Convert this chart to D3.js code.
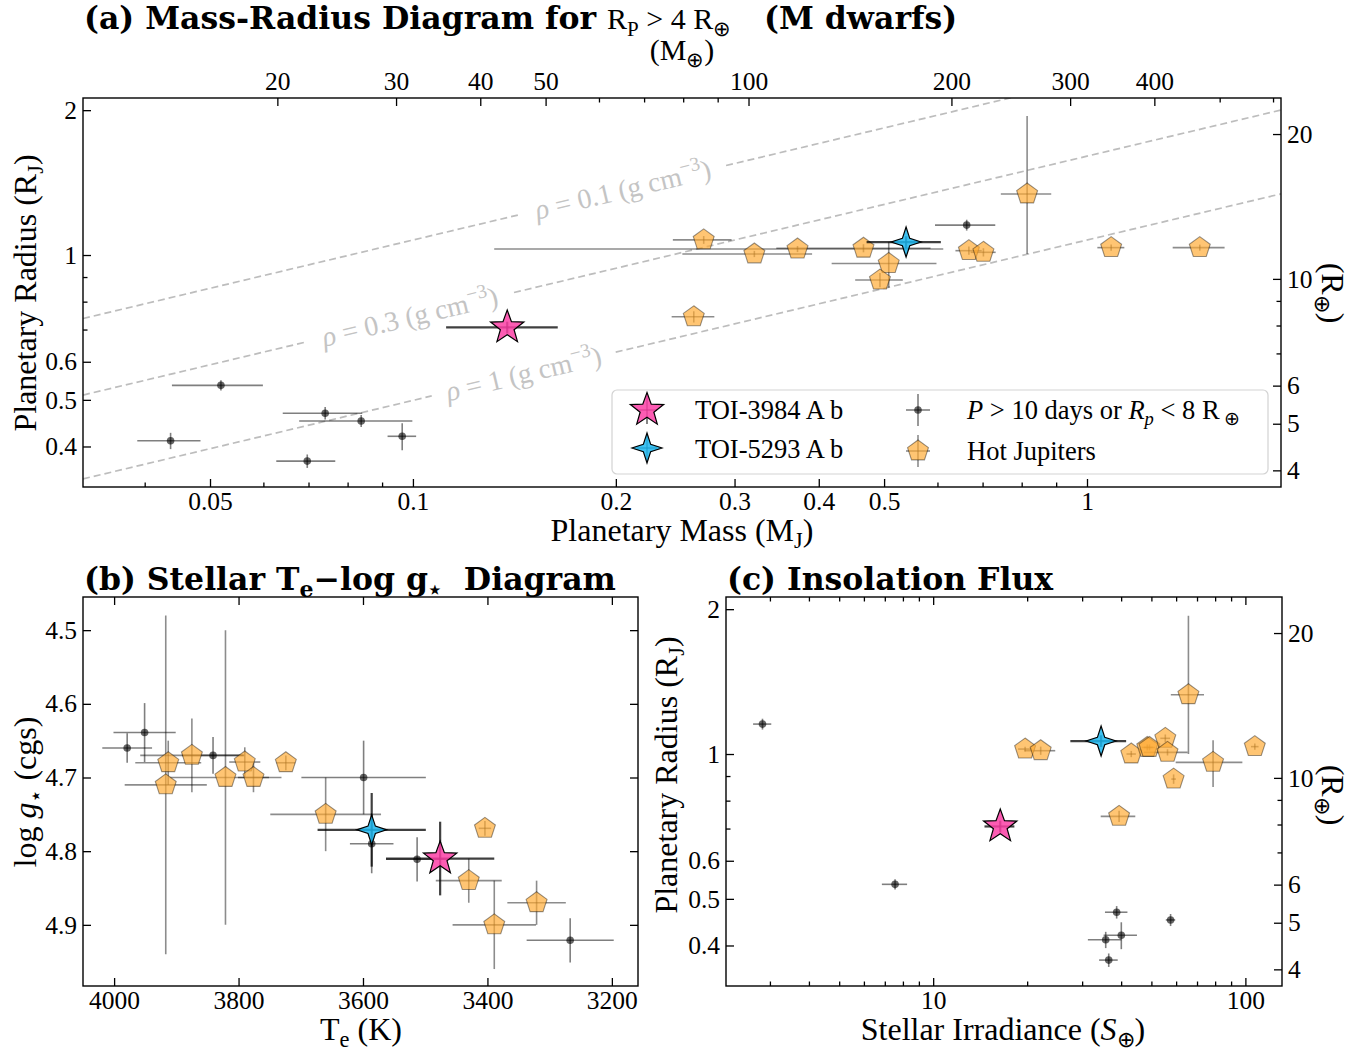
<!DOCTYPE html>
<html><head><meta charset="utf-8">
<script src="https://cdn.jsdelivr.net/npm/d3@7"></script>
<style>
body{margin:0;background:#fff;}
svg{display:block;}
text{white-space:pre;}
</style></head><body>
<svg id="chart" width="1372" height="1053"></svg>
<script>
// ---------------- DATA ----------------
const targetNames = ["TOI-3984 A b", "TOI-5293 A b"];
const targetMass = [0.138, 0.539];
const targetMassErr = [0.026, 0.068];
const targetRadius = [0.707, 1.064];
const targetRadiusErr = [0.02, 0.03];
const targetTeff = [3476, 3586];
const targetTeffErr = [87, 87];
const targetLogg = [4.810, 4.771];
const targetLoggErr = [0.05, 0.05];
const targetInsol = [16.4, 34.5];
const targetInsolErr = [1.8, 7.0];

// "P > 10 days or Rp < 8 Re" sample
const otherMass = [0.0437, 0.0519, 0.0741, 0.0838, 0.0964, 0.0697, 0.663];
const otherMassErr = [0.0047, 0.008, 0.010, 0.016, 0.0047, 0.007, 0.068];
const otherRadius = [0.411, 0.536, 0.469, 0.452, 0.420, 0.373, 1.154];
const otherRadiusErr = [0.016, 0.013, 0.014, 0.013, 0.027, 0.012, 0.03];
const otherInsol = [35.7, 7.55, 38.7, 57.6, 40.05, 36.5, 2.84];
const otherInsolErr = [4.4, 0.7, 3.2, 2.0, 4.9, 2.5, 0.19];
const otherTeff = [3979, 3951, 3841, 3599, 3586, 3513, 3267];
const otherTeffErr = [40, 50, 50, 100, 35, 50, 70];
const otherLogg = [4.660, 4.639, 4.670, 4.700, 4.790, 4.811, 4.921];
const otherLoggErr = [0.02, 0.04, 0.025, 0.05, 0.04, 0.03, 0.03];

// Hot Jupiters — panel (a)
const hjMass = [0.270, 0.321, 0.372, 0.466, 0.508, 0.493, 0.668, 0.702, 0.815, 1.086, 1.47, 0.261];
const hjMassErr = [0.027, 0.07, 0.24, 0.12, 0.09, 0.04, 0.03, 0.03, 0.07, 0.05, 0.13, 0.019];
const hjRadius = [1.075, 1.005, 1.029, 1.033, 0.960, 0.887, 1.021, 1.013, 1.339, 1.036, 1.036, 0.744];
const hjRadiusErrLo = [0.02, 0.015, 0.015, 0.02, 0.105, 0.03, 0.02, 0.02, 0.334, 0.015, 0.015, 0.02];
const hjRadiusErrHi = [0.02, 0.015, 0.015, 0.02, 0.105, 0.03, 0.02, 0.02, 0.606, 0.015, 0.015, 0.02];
// Hot Jupiters — panel (b)
const hjTeff = [3913, 3917, 3875, 3821, 3790, 3776, 3724, 3660, 3404, 3430, 3389, 3321];
const hjTeffErr = [53, 66, 83, 90, 25, 25, 15, 89, 10, 53, 67, 47];
const hjLogg = [4.680, 4.710, 4.670, 4.700, 4.679, 4.700, 4.680, 4.750, 4.769, 4.840, 4.900, 4.870];
const hjLoggErr = [0.03, 0.23, 0.05, 0.20, 0.02, 0.02, 0.01, 0.05, 0.01, 0.03, 0.06, 0.03];
// Hot Jupiters — panel (c)
const hjInsol = [19.7, 22.1, 43.1, 48.5, 49.3, 55.4, 56.3, 65.7, 78.8, 58.9, 39.4, 107.2];
const hjInsolErr = [1.0, 2.5, 1.5, 2.0, 2.0, 2.0, 9.0, 8.0, 19.0, 1.0, 5.0, 3.0];
const hjRadiusC = [1.024, 1.016, 1.000, 1.032, 1.032, 1.078, 1.008, 1.328, 0.961, 0.887, 0.742, 1.036];
const hjRadiusCErrLo = [0.012, 0.02, 0.015, 0.015, 0.015, 0.02, 0.015, 0.328, 0.107, 0.02, 0.02, 0.015];
const hjRadiusCErrHi = [0.012, 0.02, 0.015, 0.015, 0.015, 0.02, 0.015, 0.61, 0.107, 0.02, 0.02, 0.015];

// iso-density curves (g cm^-3)
const densities = [0.1, 0.3, 1];
const densityLabels = ["0.1", "0.3", "1"];

// axis ranges and ticks
const massDomain = [0.0324, 1.94];          // M_J
const radiusDomain = [0.3295, 2.12];        // R_J
const teffDomain = [4050, 3158];            // K
const loggDomain = [4.455, 4.983];
const insolDomain = [2.17, 131];            // S_earth
const MJ_ME = 317.8, RJ_RE = 11.21, RHO_J = 1.24;

const massTicksLab = [0.05, 0.1, 0.2, 0.3, 0.4, 0.5, 1];
const massTicksMinor = [0.04, 0.06, 0.07, 0.08, 0.09, 0.6, 0.7, 0.8, 0.9];
const mEarthTicksLab = [20, 30, 40, 50, 100, 200, 300, 400];
const mEarthTicksMinor = [60, 70, 80, 90, 500, 600];
const radTicksLab = [0.4, 0.5, 0.6, 1, 2];
const radTicksMinor = [0.7, 0.8, 0.9];
const rEarthTicksLab = [4, 5, 6, 10, 20];
const rEarthTicksMinor = [7, 8, 9];
const teffTicks = [4000, 3800, 3600, 3400, 3200];
const loggTicks = [4.5, 4.6, 4.7, 4.8, 4.9];
const insolTicksLab = [10, 100];
const insolTicksMinor = [3, 4, 5, 6, 7, 8, 9, 20, 30, 40, 50, 60, 70, 80, 90];

// ---------------- STYLE ----------------
const SERIF = '"Liberation Serif","Times New Roman",Times,serif';
const TSERIF = '"DejaVu Serif",serif';
const FS_TICK = 25.5, FS_LAB = 32, FS_TITLE = 31.5, FS_LEG = 26.5;
const PINK = "#fb3fa6", BLUE = "#1cb6ee", ORANGE = "#ffa931";

const svg = d3.select("#chart");
svg.append("rect").attr("width", 1372).attr("height", 1053).attr("fill", "#fff");

const A = {l: 83, r: 1281, t: 98, b: 487};
const B = {l: 83, r: 638, t: 597, b: 986};
const C = {l: 726, r: 1282, t: 597, b: 986};

function rich(parent, x, y, parts, o) {
  const t = parent.append("text").attr("x", x).attr("y", y)
    .attr("font-family", o.family || SERIF).attr("font-size", o.size)
    .attr("text-anchor", o.anchor || "start").attr("font-weight", o.weight || "normal")
    .attr("fill", o.fill || "#000");
  if (o.rotate) t.attr("transform", `rotate(${o.rotate},${x},${y})`);
  let shift = 0;
  parts.forEach(p => {
    const s = typeof p === "string" ? {t: p} : p;
    const base = s.size || o.size;
    const fsz = (s.sub || s.sup) ? base * 0.7 : base;
    const target = s.sub ? base * 0.22 : s.sup ? -base * 0.4 : 0;
    const ts = t.append("tspan").text(s.t).attr("font-size", fsz).attr("dy", target - shift);
    shift = target;
    if (s.it) ts.attr("font-style", "italic");
    if (s.w) ts.attr("font-weight", s.w);
    if (s.f) ts.attr("font-family", s.f);
  });
  return t;
}

function starPath(n, R, r) {
  const pts = [];
  for (let k = 0; k < 2 * n; k++) {
    const a = -Math.PI / 2 + k * Math.PI / n;
    const rr = k % 2 ? r : R;
    pts.push([rr * Math.cos(a), rr * Math.sin(a)]);
  }
  return "M" + pts.map(p => p[0].toFixed(2) + "," + p[1].toFixed(2)).join("L") + "Z";
}
function polyPath(n, R) {
  const pts = [];
  for (let k = 0; k < n; k++) {
    const a = -Math.PI / 2 + k * 2 * Math.PI / n;
    pts.push([R * Math.cos(a), R * Math.sin(a)]);
  }
  return "M" + pts.map(p => p[0].toFixed(2) + "," + p[1].toFixed(2)).join("L") + "Z";
}
const STAR5 = starPath(5, 17.5, 7.2);
const STAR4 = starPath(4, 15, 5.2);
const PENT = polyPath(5, 11);

function axisStyle(g) {
  g.select(".domain").remove();
  g.selectAll(".tick line").attr("stroke", "#000").attr("stroke-width", 1.3);
  g.selectAll(".tick text").attr("font-size", FS_TICK).attr("font-family", SERIF).attr("fill", "#000");
  return g;
}
function addAxis(parent, gen, tx, ty) {
  return axisStyle(parent.append("g").attr("transform", `translate(${tx},${ty})`).call(gen));
}
const fmt = d => String(d);

function errBars(g, xs, ys, xv, xe, yv, yeLo, yeHi, color, opacity, width) {
  xv.forEach((x, i) => {
    const y = yv[i];
    if (xe && xe[i] > 0)
      g.append("line").attr("x1", xs(x - xe[i])).attr("x2", xs(x + xe[i]))
        .attr("y1", ys(y)).attr("y2", ys(y))
        .attr("stroke", color).attr("stroke-opacity", opacity).attr("stroke-width", width);
    if (yeLo && (yeLo[i] > 0 || yeHi[i] > 0))
      g.append("line").attr("x1", xs(x)).attr("x2", xs(x))
        .attr("y1", ys(y - yeLo[i])).attr("y2", ys(y + yeHi[i]))
        .attr("stroke", color).attr("stroke-opacity", opacity).attr("stroke-width", width);
  });
}
function markers(g, xs, ys, xv, yv, path, fill, fillOp, stroke, strokeOp, sw) {
  xv.forEach((x, i) => {
    g.append("path").attr("d", path)
      .attr("transform", `translate(${xs(x)},${ys(yv[i])})`)
      .attr("fill", fill).attr("fill-opacity", fillOp)
      .attr("stroke", stroke).attr("stroke-opacity", strokeOp).attr("stroke-width", sw)
      .attr("stroke-linejoin", "miter");
  });
}
function dots(g, xs, ys, xv, yv) {
  xv.forEach((x, i) => {
    g.append("circle").attr("cx", xs(x)).attr("cy", ys(yv[i])).attr("r", 3.8)
      .attr("fill", "#000").attr("fill-opacity", 0.6);
  });
}

function drawSample(g, xs, ys, tx, txe, ty, tye, ox, oxe, oy, oyLo, oyHi, hx, hxe, hy, hyLo, hyHi) {
  errBars(g, xs, ys, ox, oxe, oy, oyLo, oyHi, "#000", 0.5, 1.6);
  dots(g, xs, ys, ox, oy);
  errBars(g, xs, ys, hx, hxe, hy, hyLo, hyHi, "#000", 0.45, 1.6);
  markers(g, xs, ys, hx, hy, PENT, ORANGE, 0.68, "#000", 0.4, 1.1);
  errBars(g, xs, ys, tx, txe, ty, tye, tye, "#000", 0.75, 2.2);
  markers(g, xs, ys, [tx[0]], [ty[0]], STAR5, PINK, 0.85, "#000", 1, 1.2);
  markers(g, xs, ys, [tx[1]], [ty[1]], STAR4, BLUE, 0.85, "#000", 1, 1.2);
}

// ================= PANEL (a) =================
const xA = d3.scaleLog().domain(massDomain).range([A.l, A.r]);
const yA = d3.scaleLog().domain(radiusDomain).range([A.b, A.t]);
const xAtop = d3.scaleLog().domain(massDomain.map(d => d * MJ_ME)).range([A.l, A.r]);
const yAr = d3.scaleLog().domain(radiusDomain.map(d => d * RJ_RE)).range([A.b, A.t]);

const gA = svg.append("g");
svg.append("clipPath").attr("id", "clipA").append("rect")
  .attr("x", A.l).attr("y", A.t).attr("width", A.r - A.l).attr("height", A.b - A.t);

// density curves
const dens = gA.append("g").attr("clip-path", "url(#clipA)");
const labelMass = [0.205, 0.099, 0.146];
const gapHalf = [103, 104, 92];
densities.forEach((rho, i) => {
  const R = m => Math.pow(m * RHO_J / rho, 1 / 3);
  const m0 = massDomain[0], m1 = massDomain[1];
  const xc = xA(labelMass[i]);
  const mg0 = xA.invert(xc - gapHalf[i]), mg1 = xA.invert(xc + gapHalf[i]);
  [[m0, mg0], [mg1, m1]].forEach(seg => {
    dens.append("line").attr("x1", xA(seg[0])).attr("y1", yA(R(seg[0])))
      .attr("x2", xA(seg[1])).attr("y2", yA(R(seg[1])))
      .attr("stroke", "#bdbdbd").attr("stroke-width", 1.7).attr("stroke-dasharray", "7,4");
  });
  const ang = Math.atan2(yA(R(m1)) - yA(R(m0)), xA(m1) - xA(m0)) * 180 / Math.PI;
  const yc = yA(R(labelMass[i]));
  const t = rich(gA, xc, yc + 9, [{t: "ρ", it: true}, " = " + densityLabels[i] + " (g cm", {t: "−3", sup: true}, ")"],
    {size: 28, anchor: "middle", fill: "#c4c4c4"});
  t.attr("transform", `rotate(${ang},${xc},${yc})`);
});

drawSample(gA, xA, yA, targetMass, targetMassErr, targetRadius, targetRadiusErr,
  otherMass, otherMassErr, otherRadius, otherRadiusErr, otherRadiusErr,
  hjMass, hjMassErr, hjRadius, hjRadiusErrLo, hjRadiusErrHi);

// axes (a)
addAxis(svg, d3.axisBottom(xA).tickValues(massTicksLab).tickFormat(fmt).tickSize(-8).tickPadding(5), 0, A.b);
addAxis(svg, d3.axisBottom(xA).tickValues(massTicksMinor).tickFormat("").tickSize(-4.5), 0, A.b);
addAxis(svg, d3.axisTop(xAtop).tickValues(mEarthTicksLab).tickFormat(fmt).tickSize(-8).tickPadding(8), 0, A.t);
addAxis(svg, d3.axisTop(xAtop).tickValues(mEarthTicksMinor).tickFormat("").tickSize(-4.5), 0, A.t);
addAxis(svg, d3.axisLeft(yA).tickValues(radTicksLab).tickFormat(fmt).tickSize(-8).tickPadding(6), A.l, 0);
addAxis(svg, d3.axisLeft(yA).tickValues(radTicksMinor).tickFormat("").tickSize(-4.5), A.l, 0);
addAxis(svg, d3.axisRight(yAr).tickValues(rEarthTicksLab).tickFormat(fmt).tickSize(-8).tickPadding(6), A.r, 0);
addAxis(svg, d3.axisRight(yAr).tickValues(rEarthTicksMinor).tickFormat("").tickSize(-4.5), A.r, 0);
svg.append("rect").attr("x", A.l).attr("y", A.t).attr("width", A.r - A.l).attr("height", A.b - A.t)
  .attr("fill", "none").attr("stroke", "#000").attr("stroke-width", 1.4);

// legend (a)
const lg = svg.append("g");
lg.append("rect").attr("x", 612).attr("y", 390).attr("width", 656).attr("height", 84).attr("rx", 5)
  .attr("fill", "#fff").attr("fill-opacity", 0.85).attr("stroke", "#d3d3d3").attr("stroke-width", 1.2);
function legendErr(cx, cy, hw, hh, op, w) {
  lg.append("line").attr("x1", cx - hw).attr("x2", cx + hw).attr("y1", cy).attr("y2", cy)
    .attr("stroke", "#000").attr("stroke-opacity", op).attr("stroke-width", w);
  lg.append("line").attr("x1", cx).attr("x2", cx).attr("y1", cy - hh).attr("y2", cy + hh)
    .attr("stroke", "#000").attr("stroke-opacity", op).attr("stroke-width", w);
}
legendErr(647, 410, 10, 14, 0.6, 1.6);
lg.append("path").attr("d", STAR5).attr("transform", "translate(647,410)").attr("fill", PINK).attr("fill-opacity", 0.85).attr("stroke", "#000").attr("stroke-width", 1.2);
legendErr(647, 448, 10, 14, 0.6, 1.6);
lg.append("path").attr("d", STAR4).attr("transform", "translate(647,448)").attr("fill", BLUE).attr("fill-opacity", 0.85).attr("stroke", "#000").attr("stroke-width", 1.2);
legendErr(918, 410, 12, 16, 0.5, 1.6);
lg.append("circle").attr("cx", 918).attr("cy", 410).attr("r", 3.8).attr("fill", "#000").attr("fill-opacity", 0.6);
legendErr(918, 451, 12, 16, 0.45, 1.6);
lg.append("path").attr("d", PENT).attr("transform", "translate(918,451)").attr("fill", ORANGE).attr("fill-opacity", 0.68).attr("stroke", "#000").attr("stroke-opacity", 0.4).attr("stroke-width", 1.1);
rich(lg, 695, 419, [targetNames[0]], {size: FS_LEG});
rich(lg, 695, 458, [targetNames[1]], {size: FS_LEG});
rich(lg, 967, 419, [{t: "P", it: true}, " > 10 days or ", {t: "R", it: true}, {t: "p", sub: true, it: true}, " < 8 R", {t: " ⊕", sub: true}], {size: FS_LEG});
rich(lg, 967, 460, ["Hot Jupiters"], {size: FS_LEG});

// titles and labels (a)
rich(svg, 84, 29, ["(a) Mass-Radius Diagram for ",
  {t: "R", w: "normal", f: SERIF, size: 30}, {t: "P", sub: true, w: "normal", f: SERIF, size: 30},
  {t: " > 4 R", w: "normal", f: SERIF, size: 30}, {t: "⊕", sub: true, w: "normal", f: SERIF, size: 30}, "   (M dwarfs)"],
  {size: FS_TITLE, weight: "bold", family: TSERIF});
rich(svg, 682, 60, ["(M", {t: "⊕", sub: true}, ")"], {size: 30, anchor: "middle"});
rich(svg, 682, 541, ["Planetary Mass (M", {t: "J", sub: true}, ")"], {size: FS_LAB, anchor: "middle"});
rich(svg, 36, 293, ["Planetary Radius (R", {t: "J", sub: true}, ")"], {size: FS_LAB, anchor: "middle", rotate: -90});
rich(svg, 1322, 293, ["(R", {t: "⊕", sub: true}, ")"], {size: FS_LAB, anchor: "middle", rotate: 90});

// ================= PANEL (b) =================
const xB = d3.scaleLinear().domain(teffDomain).range([B.l, B.r]);
const yB = d3.scaleLinear().domain(loggDomain).range([B.t, B.b]);
const gB = svg.append("g");
drawSample(gB, xB, yB, targetTeff, targetTeffErr, targetLogg, targetLoggErr,
  otherTeff, otherTeffErr, otherLogg, otherLoggErr, otherLoggErr,
  hjTeff, hjTeffErr, hjLogg, hjLoggErr, hjLoggErr);
addAxis(svg, d3.axisBottom(xB).tickValues(teffTicks).tickFormat(fmt).tickSize(-8).tickPadding(5), 0, B.b);
addAxis(svg, d3.axisTop(xB).tickValues(teffTicks).tickFormat("").tickSize(-8), 0, B.t);
addAxis(svg, d3.axisLeft(yB).tickValues(loggTicks).tickFormat(d3.format(".1f")).tickSize(-8).tickPadding(6), B.l, 0);
addAxis(svg, d3.axisRight(yB).tickValues(loggTicks).tickFormat("").tickSize(-8), B.r, 0);
svg.append("rect").attr("x", B.l).attr("y", B.t).attr("width", B.r - B.l).attr("height", B.b - B.t)
  .attr("fill", "none").attr("stroke", "#000").attr("stroke-width", 1.4);
rich(svg, 84, 590, ["(b) Stellar T", {t: "e", sub: true}, "−log g", {t: "⋆", sub: true}, "  Diagram"],
  {size: FS_TITLE, weight: "bold", family: TSERIF});
rich(svg, 361, 1040, ["T", {t: "e", sub: true}, " (K)"], {size: FS_LAB, anchor: "middle"});
rich(svg, 36, 792, ["log ", {t: "g", it: true}, {t: "⋆", sub: true}, " (cgs)"], {size: FS_LAB, anchor: "middle", rotate: -90});

// ================= PANEL (c) =================
const xC = d3.scaleLog().domain(insolDomain).range([C.l, C.r]);
const yC = d3.scaleLog().domain(radiusDomain).range([C.b, C.t]);
const yCr = d3.scaleLog().domain(radiusDomain.map(d => d * RJ_RE)).range([C.b, C.t]);
const gC = svg.append("g");
drawSample(gC, xC, yC, targetInsol, targetInsolErr, targetRadius, targetRadiusErr,
  otherInsol, otherInsolErr, otherRadius, otherRadiusErr, otherRadiusErr,
  hjInsol, hjInsolErr, hjRadiusC, hjRadiusCErrLo, hjRadiusCErrHi);
addAxis(svg, d3.axisBottom(xC).tickValues(insolTicksLab).tickFormat(fmt).tickSize(-8).tickPadding(5), 0, C.b);
addAxis(svg, d3.axisBottom(xC).tickValues(insolTicksMinor).tickFormat("").tickSize(-4.5), 0, C.b);
addAxis(svg, d3.axisTop(xC).tickValues(insolTicksLab).tickFormat("").tickSize(-8), 0, C.t);
addAxis(svg, d3.axisTop(xC).tickValues(insolTicksMinor).tickFormat("").tickSize(-4.5), 0, C.t);
addAxis(svg, d3.axisLeft(yC).tickValues(radTicksLab).tickFormat(fmt).tickSize(-8).tickPadding(6), C.l, 0);
addAxis(svg, d3.axisLeft(yC).tickValues(radTicksMinor).tickFormat("").tickSize(-4.5), C.l, 0);
addAxis(svg, d3.axisRight(yCr).tickValues(rEarthTicksLab).tickFormat(fmt).tickSize(-8).tickPadding(6), C.r, 0);
addAxis(svg, d3.axisRight(yCr).tickValues(rEarthTicksMinor).tickFormat("").tickSize(-4.5), C.r, 0);
svg.append("rect").attr("x", C.l).attr("y", C.t).attr("width", C.r - C.l).attr("height", C.b - C.t)
  .attr("fill", "none").attr("stroke", "#000").attr("stroke-width", 1.4);
rich(svg, 727, 590, ["(c) Insolation Flux"], {size: FS_TITLE, weight: "bold", family: TSERIF});
rich(svg, 1003, 1040, ["Stellar Irradiance (", {t: "S", it: true}, {t: "⊕", sub: true}, ")"], {size: FS_LAB, anchor: "middle"});
rich(svg, 677, 775, ["Planetary Radius (R", {t: "J", sub: true}, ")"], {size: FS_LAB, anchor: "middle", rotate: -90});
rich(svg, 1322, 795, ["(R", {t: "⊕", sub: true}, ")"], {size: FS_LAB, anchor: "middle", rotate: 90});
</script></body></html>
